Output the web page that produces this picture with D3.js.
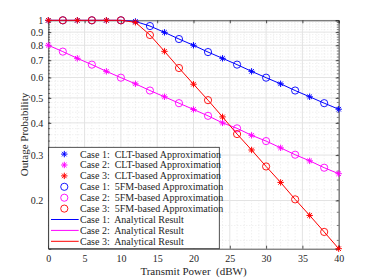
<!DOCTYPE html>
<html>
<head>
<meta charset="utf-8">
<script src="https://cdn.jsdelivr.net/npm/d3@7"></script>
<style>
  body { margin: 0; background: #fff; }
</style>
</head>
<body>
<div id="chart"></div>
<script>
// transmit power grid (dBW)
let power = [0, 2, 4, 6, 8, 10, 12, 14, 16, 18, 20, 22, 24, 26, 28, 30, 32, 34, 36, 38, 40];

// outage probability
let case1 = [1, 1, 1, 1, 1, 1, 0.99, 0.95, 0.898, 0.846, 0.80, 0.753, 0.712, 0.673, 0.634, 0.599, 0.567, 0.534, 0.505, 0.477, 0.452];
let case2 = [0.80, 0.756, 0.712, 0.673, 0.634, 0.599, 0.567, 0.534, 0.505, 0.477, 0.451, 0.426, 0.40, 0.381, 0.358, 0.340, 0.320, 0.301, 0.285, 0.268, 0.254];
let case3 = [1, 1, 1, 1, 1, 1, 0.982, 0.877, 0.758, 0.653, 0.565, 0.490, 0.422, 0.362, 0.314, 0.271, 0.235, 0.202, 0.175, 0.151, 0.130];

let xTicks = [0, 5, 10, 15, 20, 25, 30, 35, 40];
let yTicks = [0.2, 0.3, 0.4, 0.5, 0.6, 0.7, 0.8, 0.9, 1];
let yMinor = d3.range(0.14, 1.0, 0.02);

let seriesNames = ["Case 1", "Case 2", "Case 3"];
let colors = ["#0000ff", "#ff00ff", "#ff0000"];

let serif = "'Liberation Serif', 'Times New Roman', Times, serif";

let svgWidth = 374;
let svgHeight = 280;
let margin = { top: 20.3, right: 35.3, bottom: 31.3, left: 48.3 };
let width = svgWidth - margin.left - margin.right;
let height = svgHeight - margin.top - margin.bottom;

let svg = d3.select("#chart")
    .append("svg")
    .attr("width", svgWidth)
    .attr("height", svgHeight);

let chartGroup = svg.append("g")
    .attr("transform", `translate(${margin.left}, ${margin.top})`);

let x = d3.scaleLinear().domain([0, 40]).range([0, width]);
let y = d3.scaleLog().domain([0.13, 1]).range([height, 0]);

// minor grid (dotted)
chartGroup.append("g").selectAll("line")
    .data(d3.range(1, 40).filter(d => d % 5 !== 0))
    .enter().append("line")
    .attr("x1", d => x(d)).attr("x2", d => x(d))
    .attr("y1", 0).attr("y2", height)
    .attr("stroke", "#dcdcdc").attr("stroke-width", 0.6)
    .attr("stroke-dasharray", "1,2");

chartGroup.append("g").selectAll("line")
    .data(yMinor.filter(v => !yTicks.some(t => Math.abs(t - v) < 1e-6)))
    .enter().append("line")
    .attr("x1", 0).attr("x2", width)
    .attr("y1", d => y(d)).attr("y2", d => y(d))
    .attr("stroke", "#dcdcdc").attr("stroke-width", 0.6)
    .attr("stroke-dasharray", "1,2");

// major grid
chartGroup.append("g").selectAll("line")
    .data(xTicks)
    .enter().append("line")
    .attr("x1", d => x(d)).attr("x2", d => x(d))
    .attr("y1", 0).attr("y2", height)
    .attr("stroke", "#e3e3e3").attr("stroke-width", 1);

chartGroup.append("g").selectAll("line")
    .data(yTicks)
    .enter().append("line")
    .attr("x1", 0).attr("x2", width)
    .attr("y1", d => y(d)).attr("y2", d => y(d))
    .attr("stroke", "#e3e3e3").attr("stroke-width", 1);

// axes
let bottomAxis = d3.axisBottom(x).tickValues(xTicks).tickSize(-3).tickPadding(6).tickFormat(d3.format("d"));
let leftAxis = d3.axisLeft(y).tickValues(yTicks).tickSize(-3).tickPadding(5).tickFormat(d => d === 1 ? "1" : d3.format(".1f")(d));
let topAxis = d3.axisTop(x).tickValues(xTicks).tickSize(-3).tickFormat("");
let rightAxis = d3.axisRight(y).tickValues(yTicks).tickSize(-3).tickFormat("");

function styleAxis(g) {
    g.attr("font-family", null).attr("font-size", null);
    g.select(".domain").attr("stroke", "#262626").attr("stroke-width", 0.8);
    g.selectAll(".tick line").attr("stroke", "#262626").attr("stroke-width", 0.8);
    g.selectAll(".tick text")
        .attr("fill", "#262626")
        .style("font-family", serif)
        .style("font-size", "10px");
}

chartGroup.append("g").attr("transform", `translate(0, ${height})`).call(bottomAxis).call(styleAxis);
chartGroup.append("g").call(leftAxis).call(styleAxis);
chartGroup.append("g").call(topAxis).call(styleAxis);
chartGroup.append("g").attr("transform", `translate(${width}, 0)`).call(rightAxis).call(styleAxis);

// minor ticks on the y axes
[0, width].forEach(function (px) {
    chartGroup.append("g").selectAll("line")
        .data(yMinor)
        .enter().append("line")
        .attr("x1", px).attr("x2", px === 0 ? 1.8 : width - 1.8)
        .attr("y1", d => y(d)).attr("y2", d => y(d))
        .attr("stroke", "#262626").attr("stroke-width", 0.6);
});

// star marker path (matlab '*')
function starPath(r) {
    let p = "";
    for (let i = 0; i < 4; i++) {
        let a = i * Math.PI / 4;
        let dx = r * Math.cos(a), dy = r * Math.sin(a);
        p += `M${-dx},${-dy}L${dx},${dy}`;
    }
    return p;
}

let allSeries = [case1, case2, case3];

allSeries.forEach(function (vals, i) {
    let pts = power.map((p, j) => ({ x: p, y: vals[j] }));

    let line = d3.line().x(d => x(d.x)).y(d => y(d.y));
    chartGroup.append("path")
        .datum(pts)
        .attr("d", line)
        .attr("fill", "none")
        .attr("stroke", colors[i])
        .attr("stroke-width", 1);

    // CLT markers (stars)
    chartGroup.append("g").selectAll("path")
        .data(pts.filter(d => d.x % 4 === 0))
        .enter().append("path")
        .attr("transform", d => `translate(${x(d.x)}, ${y(d.y)})`)
        .attr("d", starPath(3.2))
        .attr("stroke", colors[i])
        .attr("stroke-width", 1)
        .attr("fill", "none");

    // 5FM markers (circles)
    chartGroup.append("g").selectAll("circle")
        .data(pts.filter(d => d.x % 4 === 2))
        .enter().append("circle")
        .attr("cx", d => x(d.x))
        .attr("cy", d => y(d.y))
        .attr("r", 3.6)
        .attr("fill", "none")
        .attr("stroke", colors[i])
        .attr("stroke-width", 0.9);
});

// legend
let legendItems = [];
seriesNames.forEach((n, i) => legendItems.push({ kind: "star", color: colors[i], label: `${n}: CLT-based Approximation` }));
seriesNames.forEach((n, i) => legendItems.push({ kind: "circle", color: colors[i], label: `${n}: 5FM-based Approximation` }));
seriesNames.forEach((n, i) => legendItems.push({ kind: "line", color: colors[i], label: `${n}: Analytical Result` }));

let legendGroup = chartGroup.append("g")
    .attr("transform", `translate(0, ${height - 101.4})`);

legendGroup.append("rect")
    .attr("x", 0.4).attr("y", 0)
    .attr("width", 170.6).attr("height", 101.4)
    .attr("fill", "#fff")
    .attr("stroke", "#262626")
    .attr("stroke-width", 0.8);

legendItems.forEach(function (item, i) {
    let cy = 6.8 + i * 10.9;
    let g = legendGroup.append("g");
    if (item.kind === "star") {
        g.append("path")
            .attr("transform", `translate(16, ${cy})`)
            .attr("d", starPath(3.2))
            .attr("stroke", item.color).attr("stroke-width", 1).attr("fill", "none");
    } else if (item.kind === "circle") {
        g.append("circle")
            .attr("cx", 16).attr("cy", cy).attr("r", 3.6)
            .attr("fill", "none").attr("stroke", item.color).attr("stroke-width", 0.9);
    } else {
        g.append("line")
            .attr("x1", 2.7).attr("x2", 30.4)
            .attr("y1", cy).attr("y2", cy)
            .attr("stroke", item.color).attr("stroke-width", 1);
    }
    g.append("text")
        .attr("x", 31.7).attr("y", cy)
        .attr("dy", "0.35em")
        .attr("fill", "#262626")
        .style("font-family", serif)
        .style("font-size", "10px")
        .style("white-space", "pre")
        .text(item.label.replace(": ", ":  "));
});

// axis labels
svg.append("text")
    .attr("x", margin.left + width / 2)
    .attr("y", 275)
    .attr("text-anchor", "middle")
    .attr("fill", "#262626")
    .style("font-family", serif)
    .style("font-size", "11px")
    .style("white-space", "pre")
    .text("Transmit Power  (dBW)");

svg.append("text")
    .attr("transform", `translate(28, ${margin.top + height / 2}) rotate(-90)`)
    .attr("text-anchor", "middle")
    .attr("fill", "#262626")
    .style("font-family", serif)
    .style("font-size", "11px")
    .text("Outage Probability");
</script>
</body>
</html>
